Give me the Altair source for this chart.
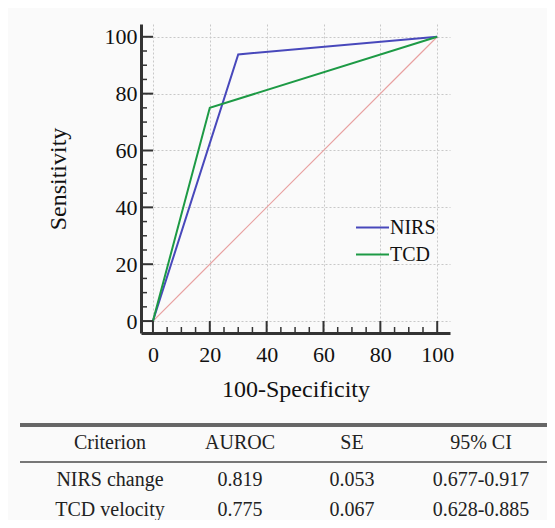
import altair as alt
import pandas as pd

# ROC data
tests = ["NIRS", "TCD"]
nirs_fpr = [0, 30, 100]
nirs_sens = [0, 93.8, 100]
tcd_fpr = [0, 20, 100]
tcd_sens = [0, 75, 100]
diag_vals = [0, 100]

major_ticks = [0, 20, 40, 60, 80, 100]
minor_ticks = [5, 10, 15, 25, 30, 35, 45, 50, 55, 65, 70, 75, 85, 90, 95]

# Table data
table_header = ["Criterion", "AUROC", "SE", "95% CI"]
row_nirs = ["NIRS change", "0.819", "0.053", "0.677-0.917"]
row_tcd = ["TCD velocity", "0.775", "0.067", "0.628-0.885"]

SERIF = "Times New Roman, Liberation Serif, serif"
W, H = 309, 309
LO, HI = -4.2, 104.5

roc = pd.DataFrame(
    [{"test": "NIRS", "fpr": x, "sens": y, "o": i} for i, (x, y) in enumerate(zip(nirs_fpr, nirs_sens))]
    + [{"test": "TCD", "fpr": x, "sens": y, "o": i} for i, (x, y) in enumerate(zip(tcd_fpr, tcd_sens))]
)
diag = pd.DataFrame({"fpr": diag_vals, "sens": diag_vals})
major_df = pd.DataFrame({"v": major_ticks})
minor_df = pd.DataFrame({"v": minor_ticks})

xs = alt.Scale(domain=[LO, HI], nice=False, zero=False)
ys = alt.Scale(domain=[LO, HI], nice=False, zero=False)

xaxis = alt.Axis(values=major_ticks, title="100-Specificity", ticks=False,
                 labelPadding=11, titlePadding=12, labelFlush=False)
yaxis = alt.Axis(values=major_ticks, title="Sensitivity", ticks=False,
                 labelPadding=4, titlePadding=34)

diag_layer = alt.Chart(diag).mark_line(color="#e8a0a0", strokeWidth=1.2).encode(
    x=alt.X("fpr:Q", scale=xs, axis=xaxis),
    y=alt.Y("sens:Q", scale=ys, axis=yaxis),
)

lines = alt.Chart(roc).mark_line(strokeWidth=2).encode(
    x=alt.X("fpr:Q", scale=xs),
    y=alt.Y("sens:Q", scale=ys),
    order="o:Q",
    color=alt.Color(
        "test:N",
        scale=alt.Scale(domain=tests, range=["#4848bb", "#1d9a45"]),
        legend=alt.Legend(
            title=None, orient="none", legendX=214, legendY=190,
            symbolType="stroke", symbolSize=1089, symbolStrokeWidth=2,
            labelOffset=0, clipHeight=27, rowPadding=0, padding=0,
            labelFont=SERIF, labelFontSize=20, labelColor="#111",
        ),
    ),
)

ytick_major = alt.Chart(major_df).mark_rule(color="#333", strokeWidth=2).encode(
    y=alt.Y("v:Q", scale=ys), x=alt.value(0), x2=alt.value(12))
ytick_minor = alt.Chart(minor_df).mark_rule(color="#333", strokeWidth=1.5).encode(
    y=alt.Y("v:Q", scale=ys), x=alt.value(0), x2=alt.value(6))
xtick_major = alt.Chart(major_df).mark_rule(color="#333", strokeWidth=2).encode(
    x=alt.X("v:Q", scale=xs), y=alt.value(H), y2=alt.value(H - 12))
xtick_minor = alt.Chart(minor_df).mark_rule(color="#333", strokeWidth=1.5).encode(
    x=alt.X("v:Q", scale=xs), y=alt.value(H), y2=alt.value(H - 6))

roc_chart = alt.layer(diag_layer, lines, ytick_major, ytick_minor, xtick_major, xtick_minor)

# Table
rows = [table_header, row_nirs, row_tcd]
tab = pd.DataFrame([{"r": ri, "c": ci, "t": t} for ri, row in enumerate(rows) for ci, t in enumerate(row)])

tx = alt.Scale(domain=[0, 1, 2, 3], range=[-31, 99, 211, 340])
ty = alt.Scale(domain=[0, 1, 2], range=[419, 456, 486])

table_text = alt.Chart(tab).mark_text(font=SERIF, fontSize=20, color="#222", baseline="middle").encode(
    x=alt.X("c:Q", scale=tx, axis=None),
    y=alt.Y("r:Q", scale=ty, axis=None),
    text="t:N",
)
top_rule = alt.Chart(tab).mark_rule(color="#666", strokeWidth=2.5).encode(
    x=alt.value(-121), x2=alt.value(406), y=alt.value(401))
mid_rule = alt.Chart(tab).mark_rule(color="#777", strokeWidth=2).encode(
    x=alt.value(-121), x2=alt.value(406), y=alt.value(438))

table_chart = alt.layer(table_text, top_rule, mid_rule)

chart = alt.layer(roc_chart, table_chart).resolve_scale(
    x="independent", y="independent"
).properties(
    width=W, height=H,
    padding={"left": 133, "top": 16, "right": 97, "bottom": 187},
    autosize=alt.AutoSizeParams(type="none"),
    background="#fafafa",
).configure_view(stroke=None).configure_axis(
    labelFont=SERIF, labelFontSize=22, labelColor="#111",
    titleFont=SERIF, titleFontSize=24, titleFontWeight="normal", titleColor="#111",
    domainColor="#333", domainWidth=3,
    grid=True, gridColor="#c8c8c8", gridDash=[2, 2], gridWidth=1,
)

chart.save("out.html", embed_options={"renderer": "svg", "actions": False})
